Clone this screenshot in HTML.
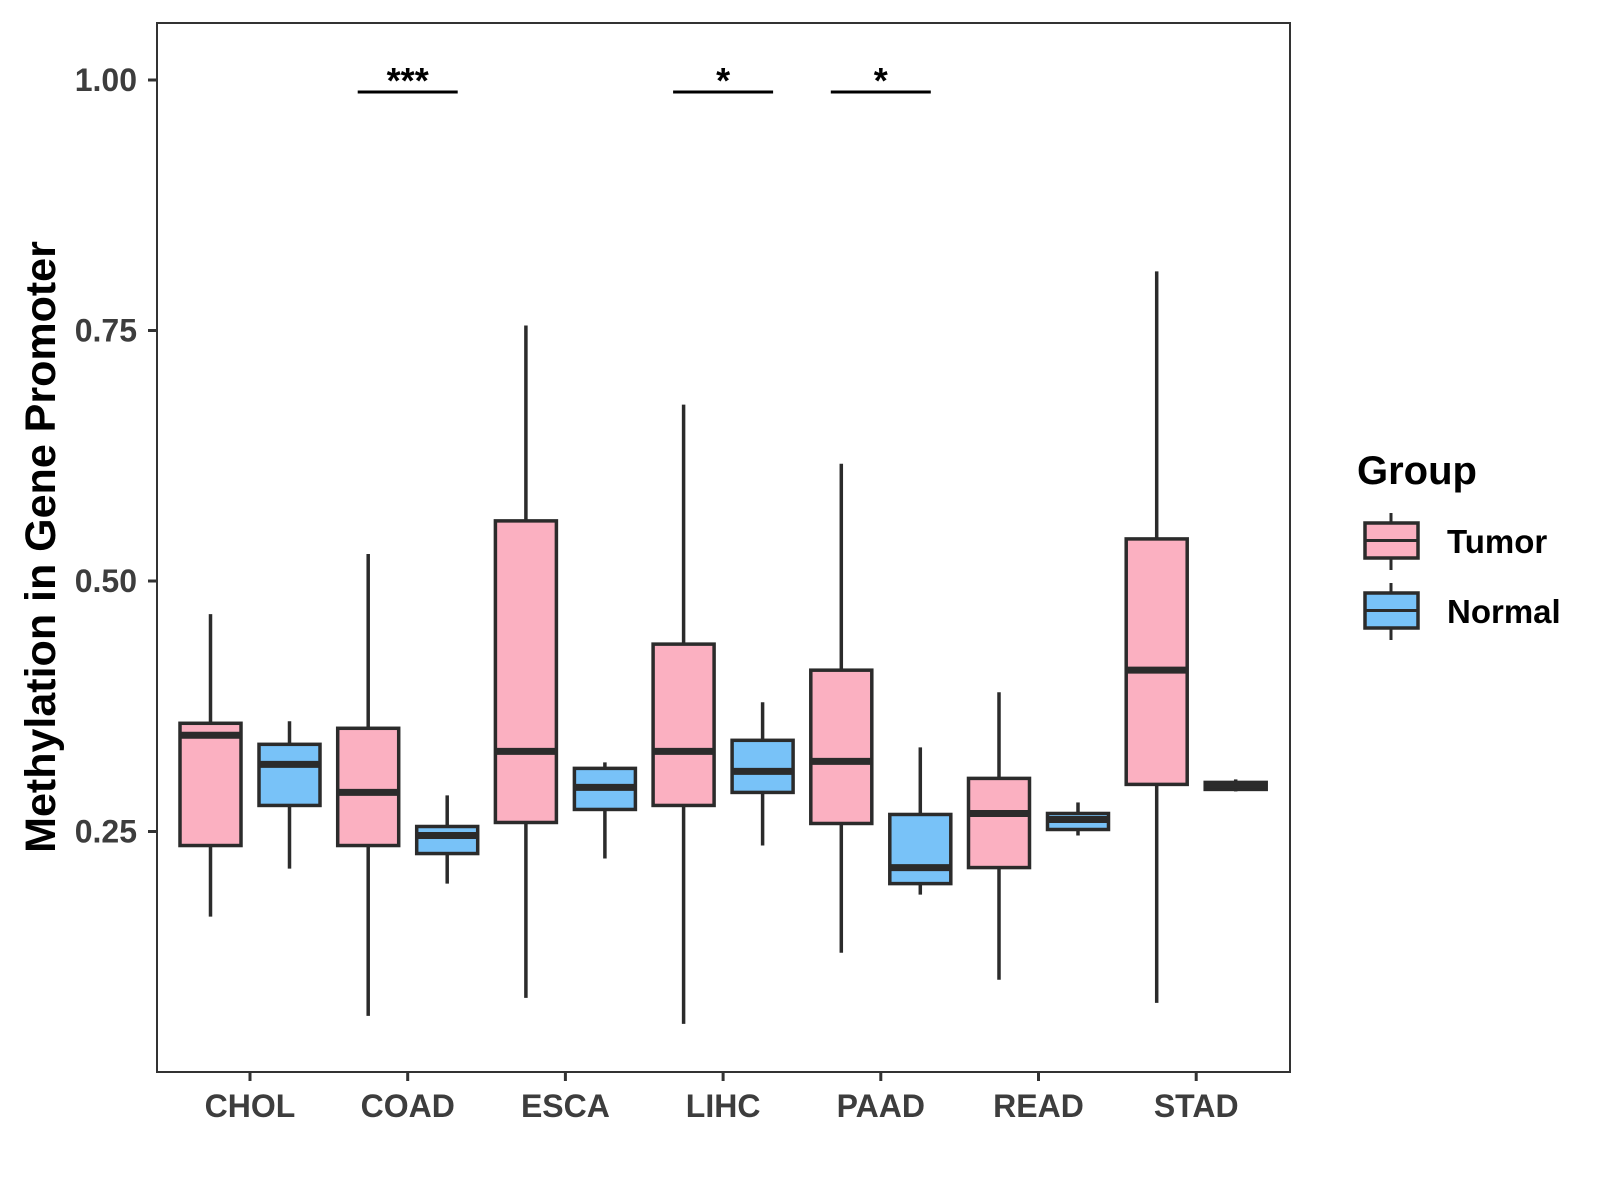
<!DOCTYPE html>
<html><head><meta charset="utf-8"><style>
html,body{margin:0;padding:0;background:#fff;}
svg{display:block;font-family:"Liberation Sans",Arial,sans-serif;}
</style></head><body>
<svg id="chart" width="1600" height="1200" xmlns="http://www.w3.org/2000/svg"></svg>
<script>
const categories = ["CHOL","COAD","ESCA","LIHC","PAAD","READ","STAD"];
const groups = ["Tumor","Normal"];
// [low whisker, Q1, median, Q3, high whisker]
const tumorStats = [
 [0.165,0.236,0.346,0.358,0.467],
 [0.066,0.236,0.289,0.353,0.527],
 [0.084,0.259,0.330,0.560,0.755],
 [0.058,0.276,0.330,0.437,0.676],
 [0.129,0.258,0.320,0.411,0.617],
 [0.102,0.214,0.268,0.303,0.389],
 [0.079,0.297,0.411,0.542,0.809]];
const normalStats = [
 [0.213,0.276,0.317,0.337,0.360],
 [0.198,0.228,0.246,0.255,0.286],
 [0.223,0.272,0.294,0.313,0.319],
 [0.236,0.289,0.310,0.341,0.379],
 [0.187,0.198,0.214,0.267,0.334],
 [0.246,0.252,0.262,0.268,0.279],
 [0.290,0.292,0.296,0.299,0.302]];
const yTicks = [0.25,0.50,0.75,1.00];
const yTickLabels = ["0.25","0.50","0.75","1.00"];
const sigCategories = ["COAD","LIHC","PAAD"];
const sigLabels = ["***","*","*"];
const sigLevel = 0.988;

const svg = document.getElementById('chart');
const NS = "http://www.w3.org/2000/svg";
const L=157,R=1290,T=23,B=1072;
const yScale = v => 80 + (1-v)*1002;
const xScale = i => 250 + i*157.7;
const colors = ["#FBB0C1","#78C2F8"];
const stroke = "#2b2b2b";
function mk(tag, attrs, parent){const e=document.createElementNS(NS,tag);for(const k in attrs)e.setAttribute(k,attrs[k]);(parent||svg).appendChild(e);return e;}

const panel = mk('rect',{x:L,y:T,width:R-L,height:B-T,fill:'#fff',stroke:'#333','stroke-width':2});



yTicks.forEach((v,i)=>{
  const y=yScale(v);
  const t=mk('line',{x1:L-9,x2:L,y1:y,y2:y,stroke:'#333','stroke-width':3});
  
  
  const lb=mk('text',{x:L-20,y:y+11,'text-anchor':'end','font-size':32,'font-weight':'bold',fill:'#3d3d3d'});
  lb.textContent=yTickLabels[i];
  
  
});
categories.forEach((c,i)=>{
  const x=xScale(i);
  const t=mk('line',{x1:x,x2:x,y1:B,y2:B+9,stroke:'#333','stroke-width':3});
  
  
  const lb=mk('text',{x:x,y:1117,'text-anchor':'middle','font-size':32,'font-weight':'bold',fill:'#3d3d3d'});
  lb.textContent=c;
  
  
});
const yt=mk('text',{x:0,y:0,transform:'translate(55,547) rotate(-90)','text-anchor':'middle','font-size':43,'font-weight':'bold',fill:'#000'});
yt.textContent="Methylation in Gene Promoter";



function drawBox(cx,s,fill,name){
  const g=mk('g',{});
  
  
  const w=61;
  mk('line',{x1:cx,x2:cx,y1:yScale(s[0]),y2:yScale(s[4]),stroke:stroke,'stroke-width':3.5},g);
  mk('rect',{x:cx-w/2,y:yScale(s[3]),width:w,height:Math.max(yScale(s[1])-yScale(s[3]),1),fill:fill,stroke:stroke,'stroke-width':3.5},g);
  mk('line',{x1:cx-w/2,x2:cx+w/2,y1:yScale(s[2]),y2:yScale(s[2]),stroke:stroke,'stroke-width':7},g);
}
categories.forEach((c,i)=>{
  drawBox(xScale(i)-39.5,tumorStats[i],colors[0],'box-tumor-'+c.toLowerCase());
  drawBox(xScale(i)+39.5,normalStats[i],colors[1],'box-normal-'+c.toLowerCase());
});
sigCategories.forEach((c,j)=>{
  const i=categories.indexOf(c);
  const y=yScale(sigLevel);
  const ln=mk('line',{x1:xScale(i)-50,x2:xScale(i)+50,y1:y,y2:y,stroke:'#000','stroke-width':3});
  
  
  const tx=mk('text',{x:xScale(i),y:y+1,'text-anchor':'middle','font-size':36,'font-weight':'bold',fill:'#000'});
  tx.textContent=sigLabels[j];
  
  
});
// legend
const lt=mk('text',{x:1357,y:484,'font-size':40,'font-weight':'bold',fill:'#000'});
lt.textContent="Group";


groups.forEach((gname,k)=>{
  const y0=523+k*70;
  const g=mk('g',{});
  
  
  mk('line',{x1:1391,x2:1391,y1:y0-10,y2:y0+47,stroke:stroke,'stroke-width':3},g);
  mk('rect',{x:1365,y:y0,width:53,height:35,fill:colors[k],stroke:stroke,'stroke-width':3.5},g);
  mk('line',{x1:1365,x2:1418,y1:y0+17.5,y2:y0+17.5,stroke:stroke,'stroke-width':3},g);
  const tx=mk('text',{x:1447,y:y0+30,'font-size':33,'font-weight':'bold',fill:'#000'},g);
  tx.textContent=gname;
});
</script>
</body></html>
